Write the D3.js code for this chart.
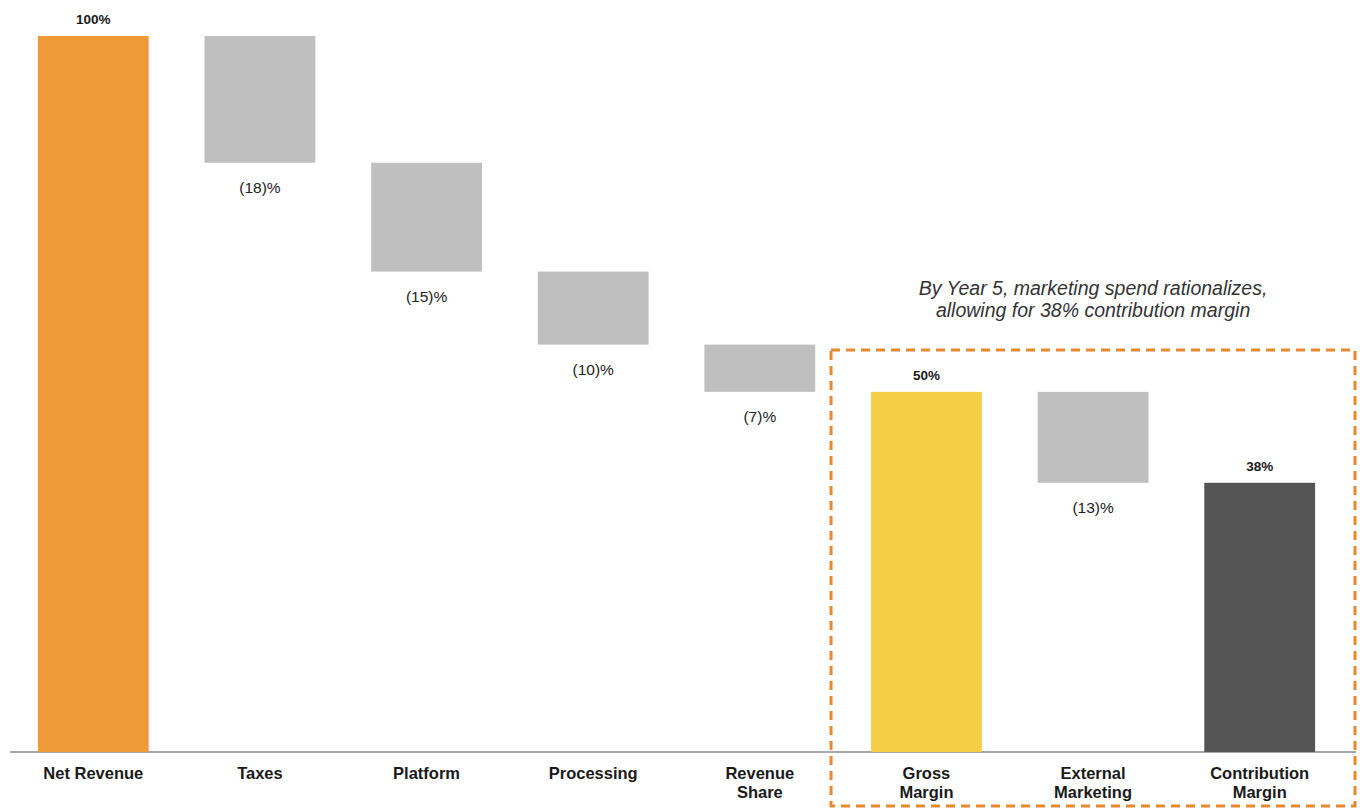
<!DOCTYPE html>
<html>
<head>
<meta charset="utf-8">
<script src="https://cdn.jsdelivr.net/npm/d3@7"></script>
<style>
  body { margin: 0; background: #fff; }
  svg { display: block; }
  .cat { font-family: "Liberation Sans", Arial, sans-serif; font-weight: bold; font-size: 16.5px; fill: #1a1a1a; }
  .tot { font-family: "Liberation Sans", Arial, sans-serif; font-weight: bold; font-size: 13.5px; fill: #1a1a1a; }
  .neg { font-family: "Liberation Sans", Arial, sans-serif; font-size: 15.5px; fill: #222; }
  .note { font-family: "Liberation Sans", Arial, sans-serif; font-style: italic; font-size: 19.5px; fill: #333; }
</style>
</head>
<body>
<svg id="chart" width="1366" height="811"></svg>
<script>
// categories (line breaks split with |)
var categories = ["Net Revenue", "Taxes", "Platform", "Processing", "Revenue|Share",
                  "Gross|Margin", "External|Marketing", "Contribution|Margin"];
// kind: total bar or step (delta)
var kinds = ["total", "delta", "delta", "delta", "delta", "total", "delta", "total"];
// values (% of net revenue)
var values = [100, -17.7, -15.2, -10.2, -6.6, 50.3, -12.7, 37.6];
// labels as printed on the chart
var labels = ["100%", "(18)%", "(15)%", "(10)%", "(7)%", "50%", "(13)%", "38%"];
var colors = ["#EF9A38", "#BFBFBF", "#BFBFBF", "#BFBFBF", "#BFBFBF", "#F5CD46", "#BFBFBF", "#555555"];
var noteLines = ["By Year 5, marketing spend rationalizes,", "allowing  for 38% contribution margin"];

var svg = d3.select("#chart");

var x = d3.scaleBand().domain(categories).range([10, 1343])
          .paddingInner(0.335).paddingOuter(0.1675);
var y = d3.scaleLinear().domain([0, 100]).range([752, 36]);

// build waterfall steps
var running = 0;
var bars = categories.map(function(c, i){
  var d = {cat: c, label: labels[i], color: colors[i], kind: kinds[i]};
  if (kinds[i] == "total") {
    d.y0 = 0; d.y1 = values[i]; running = values[i];
  } else {
    d.y1 = running; d.y0 = running + values[i]; running = d.y0;
  }
  return d;
});

// baseline
svg.append("line")
   .attr("x1", 10).attr("x2", 1356)
   .attr("y1", y(0)).attr("y2", y(0))
   .attr("stroke", "#A6A6A6").attr("stroke-width", 2);

svg.selectAll(".bar")
   .data(bars)
   .enter()
   .append("rect")
   .attr("class", "bar")
   .attr("x", function(d){ return x(d.cat); })
   .attr("width", x.bandwidth())
   .attr("y", function(d){ return y(d.y1); })
   .attr("height", function(d){ return y(d.y0) - y(d.y1); })
   .attr("fill", function(d){ return d.color; });

// value labels
svg.selectAll(".vlabel")
   .data(bars)
   .enter()
   .append("text")
   .attr("class", function(d){ return d.kind == "total" ? "tot" : "neg"; })
   .attr("text-anchor", "middle")
   .attr("x", function(d){ return x(d.cat) + x.bandwidth() / 2; })
   .attr("y", function(d){ return d.kind == "total" ? y(d.y1) - 12 : y(d.y0) + 30; })
   .text(function(d){ return d.label; });

// category labels
var cats = svg.selectAll(".cat")
   .data(categories)
   .enter()
   .append("text")
   .attr("class", "cat")
   .attr("text-anchor", "middle")
   .attr("x", function(d){ return x(d) + x.bandwidth() / 2; })
   .attr("y", 779);
cats.each(function(d){
  var parts = d.split("|");
  var t = d3.select(this);
  parts.forEach(function(p, i){
    t.append("tspan")
     .attr("x", x(d) + x.bandwidth() / 2)
     .attr("dy", i == 0 ? 0 : 19)
     .text(p);
  });
});

// dashed highlight box round the last three
var boxX0 = x("Gross|Margin") - 40;
svg.append("rect")
   .attr("x", boxX0).attr("y", 350)
   .attr("width", 1355 - boxX0).attr("height", 456)
   .attr("fill", "none")
   .attr("stroke", "#E8882F")
   .attr("stroke-width", 3)
   .attr("stroke-dasharray", "9,6");

// annotation
var noteX = x("External|Marketing") + x.bandwidth() / 2;
svg.selectAll(".note")
   .data(noteLines)
   .enter()
   .append("text")
   .attr("class", "note")
   .attr("text-anchor", "middle")
   .attr("x", noteX)
   .attr("y", function(d, i){ return 295 + i * 22; })
   .text(function(d){ return d; });
</script>
</body>
</html>
